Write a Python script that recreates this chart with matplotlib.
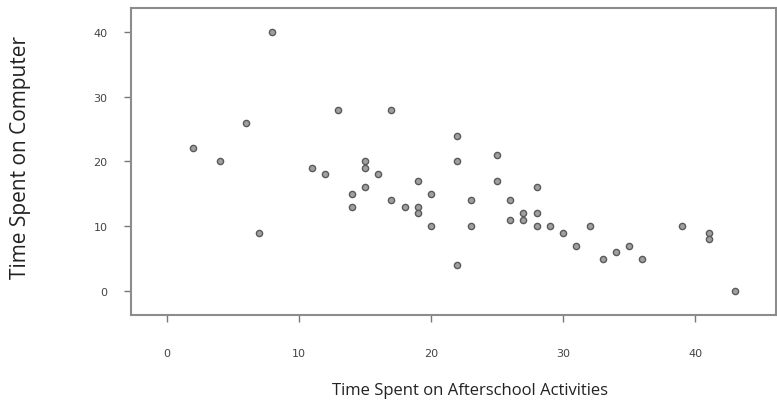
import matplotlib.pyplot as plt
import numpy as np

# time spent on afterschool activities vs. time spent on computer
activities = [2, 4, 6, 7, 8, 11, 12, 13, 14, 14, 15, 15, 15, 16, 17, 17,
              18, 19, 19, 19, 20, 20, 22, 22, 22, 23, 23, 25, 25, 26, 26,
              27, 27, 28, 28, 28, 29, 30, 31, 32, 33, 34, 35, 36, 39, 41,
              41, 43]
computer = [22, 20, 26, 9, 40, 19, 18, 28, 15, 13, 20, 19, 16, 18, 28, 14,
            13, 17, 13, 12, 15, 10, 24, 20, 4, 14, 10, 21, 17, 14, 11,
            12, 11, 16, 12, 10, 10, 9, 7, 10, 5, 6, 7, 5, 10, 9,
            8, 0]
xticks = [0, 10, 20, 30, 40]
yticks = [0, 10, 20, 30, 40]

fig = plt.figure(figsize=(7.77, 4.10), dpi=100)
ax = fig.add_axes([0.1686, 0.2293, 0.830, 0.749])

ax.scatter(activities, computer, s=20, facecolor='#a0a0a0',
           edgecolor='#5a5a5a', linewidths=1.0, zorder=3)

ax.set_xlim(-2.7, 46.1)
ax.set_ylim(-3.7, 43.7)
ax.set_xticks(xticks)
ax.set_yticks(yticks)

for s in ax.spines.values():
    s.set_color('#8c8c8c')
    s.set_linewidth(1.5)

ax.tick_params(axis='both', colors='#777777', length=5, width=1.0,
               labelsize=8, labelcolor='#444444')
ax.tick_params(axis='x', pad=19)
ax.tick_params(axis='y', pad=12)

fig.text(0.605, 0.047, 'Time Spent on Afterschool Activities',
         ha='center', va='center', fontsize=12, family='Open Sans',
         color='#222222')
fig.text(0.026, 0.617, 'Time Spent on Computer', ha='center', va='center',
         rotation=90, fontsize=15, family='Open Sans', color='#222222')

fig.savefig('out.png', dpi=100)
